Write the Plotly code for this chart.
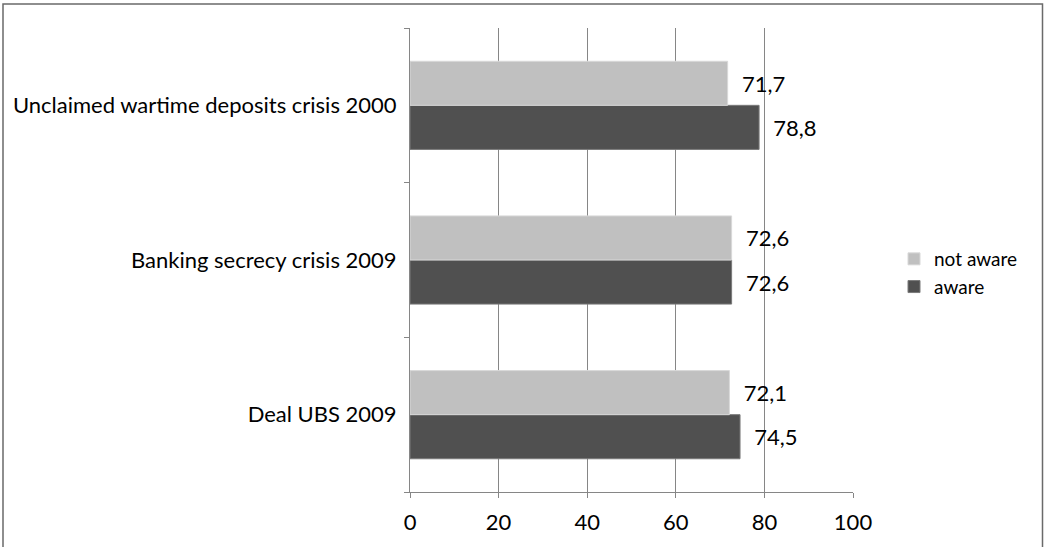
import plotly.graph_objects as go

categories = ["Deal UBS 2009", "Banking secrecy crisis 2009", "Unclaimed wartime deposits crisis 2000"]
not_aware = [72.1, 72.6, 71.7]
aware = [74.5, 72.6, 78.8]
x_ticks = [0, 20, 40, 60, 80, 100]

FONT = "Lato"
FS = 22
W, H = 1044, 547
L, R, T, B = 410, 191, 28, 55
pw, ph = W - L - R, H - T - B

fig = go.Figure()
fig.add_trace(go.Bar(
    y=categories, x=aware, orientation="h", name="aware",
    marker=dict(color="#505050", line=dict(color="#7a7a7a", width=1)),
    text=aware, texttemplate="\u00a0\u00a0%{x:.1f}", textposition="outside",
    textfont=dict(family=FONT, size=FS, color="#000000"), cliponaxis=False,
))
fig.add_trace(go.Bar(
    y=categories, x=not_aware, orientation="h", name="not aware",
    marker=dict(color="#c0c0c0", line=dict(color="#d8d8d8", width=1)),
    text=not_aware, texttemplate="\u00a0\u00a0%{x:.1f}", textposition="outside",
    textfont=dict(family=FONT, size=FS, color="#000000"), cliponaxis=False,
))

def px_to_paper_x(px):
    return (px - L) / pw

def px_to_paper_y(py):
    return (H - B - py) / ph

fig.add_shape(type="rect", xref="paper", yref="paper",
              x0=px_to_paper_x(3), x1=px_to_paper_x(1042.5),
              y0=px_to_paper_y(552), y1=px_to_paper_y(4),
              line=dict(color="#6a6a6a", width=1.5), layer="below")

fig.update_layout(
    width=W, height=H,
    margin=dict(l=L, r=R, t=T, b=B),
    paper_bgcolor="white", plot_bgcolor="white",
    barmode="group", bargap=0.43, bargroupgap=0,
    separators=", ",
    font=dict(family=FONT, size=FS, color="#000000"),
    showlegend=True,
    legend=dict(x=px_to_paper_x(894), y=px_to_paper_y(240), xanchor="left", yanchor="top",
                traceorder="reversed", font=dict(family=FONT, size=19),
                itemwidth=30, tracegroupgap=0, bgcolor="rgba(0,0,0,0)"),
)
fig.update_xaxes(range=[0, 100], tickvals=x_ticks, showgrid=True, gridcolor="#868686", gridwidth=1,
                 showline=True, linecolor="#868686", linewidth=1,
                 ticks="outside", ticklen=5, tickcolor="#868686",
                 ticklabelstandoff=6, zeroline=False, fixedrange=True)
fig.update_yaxes(showgrid=False, showline=True, linecolor="#868686", linewidth=1,
                 ticks="outside", ticklen=5, tickcolor="#868686", tickson="boundaries",
                 ticklabelstandoff=8, fixedrange=True)

fig.write_html("out.html")
